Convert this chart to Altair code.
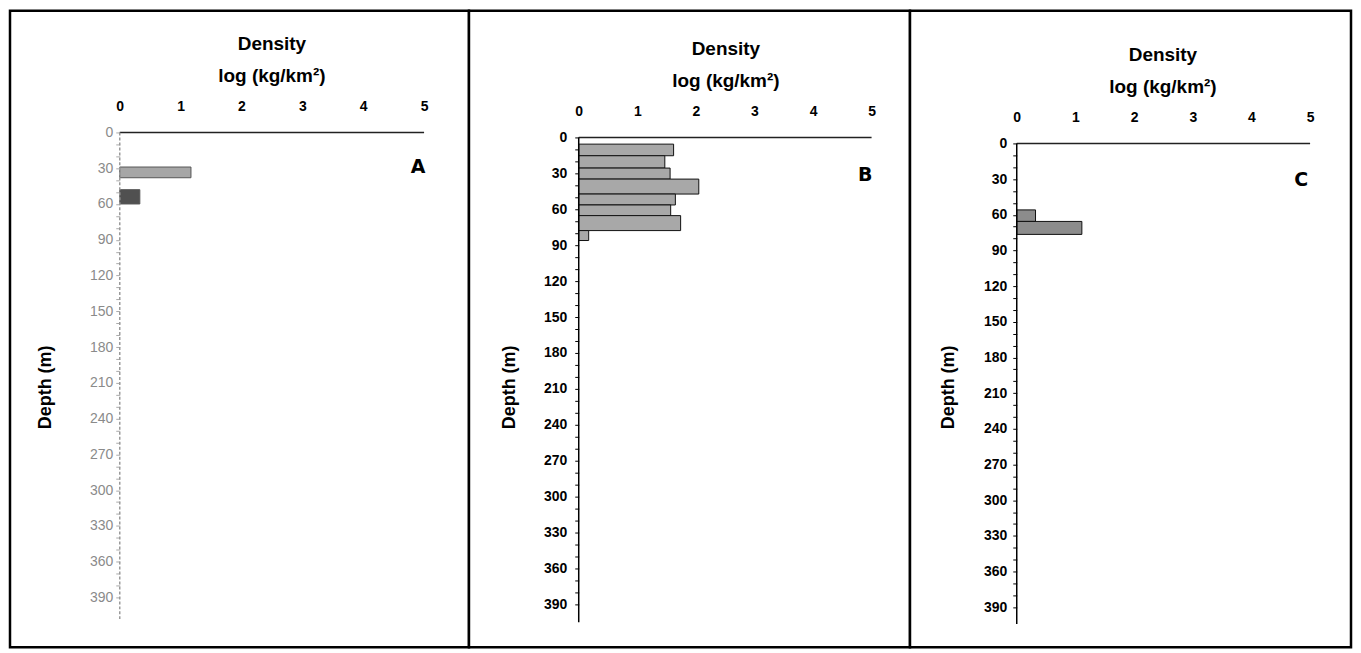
import altair as alt
import pandas as pd

FONT = "Liberation Sans"

# ---------------- data ----------------
x_ticks = [0, 1, 2, 3, 4, 5]
depth_ticks = list(range(0, 400, 10))  # labels shown every 30 m
x_title = ["Density", "log (kg/km²)"]
y_title = "Depth (m)"

A_top = [29, 48]
A_bottom = [38, 60]
A_value = [1.17, 0.33]
A_fill = ["#a6a6a6", "#505050"]

B_top = [5.6, 15.3, 25.6, 34.8, 47.3, 56.4, 65.3, 77.8]
B_bottom = [15.3, 25.6, 34.8, 47.3, 56.4, 65.3, 77.8, 86.1]
B_value = [1.62, 1.47, 1.56, 2.05, 1.65, 1.57, 1.74, 0.17]
B_fill = ["#a8a8a8"] * 8

C_top = [55.9, 65.6]
C_bottom = [65.6, 76.5]
C_value = [0.32, 1.11]
C_fill = ["#8c8c8c", "#8c8c8c"]

letters = ["A", "B", "C"]
letter_x = [4.9, 4.89, 4.85]
letter_depth = [29, 31, 31]
axis_end_depth = [408, 405, 404]

H = 638


def make_panel(i, top, bottom, value, fill, width, xdom, ydom, x0px, y0px,
               ylab_color, ylab_weight, ylab_pad, tick_color, yline_color,
               yline_dash, title_x, ytitle_x, bar_stroke):
    bars_df = pd.DataFrame({"top": top, "bottom": bottom, "value": value,
                            "base": [0] * len(value), "fill": fill})
    axis_df = pd.DataFrame({"x0": [0], "x1": [5], "y0": [0], "y1": [axis_end_depth[i]]})
    letter_df = pd.DataFrame({"letter": [letters[i]], "lx": [letter_x[i]], "ly": [letter_depth[i]]})

    xscale = alt.Scale(domain=xdom, nice=False, zero=False)
    yscale = alt.Scale(domain=ydom, nice=False, zero=False, reverse=True)

    xaxis = alt.Axis(orient="top", offset=-y0px, values=x_ticks, domain=False,
                     ticks=False, grid=False, labelFont=FONT, labelFontSize=14,
                     labelFontWeight="bold", labelColor="black", labelPadding=19,
                     labelFlush=False, labelOverlap=False,
                     title=x_title, titleFont=FONT, titleFontSize=19,
                     titleFontWeight="bold", titleColor="black", titleX=title_x,
                     titleY=-83, titleAlign="center", titleBaseline="alphabetic",
                     titleLineHeight=32)
    yaxis = alt.Axis(orient="left", offset=-x0px, values=depth_ticks,
                     labelExpr="datum.value % 30 == 0 ? datum.label : ''",
                     domain=False, grid=False, tickSize=4, tickColor=tick_color,
                     labelFont=FONT, labelFontSize=14, labelFontWeight=ylab_weight,
                     labelColor=ylab_color, labelPadding=ylab_pad,
                     labelFlush=False, labelOverlap=False,
                     title=y_title, titleFont=FONT, titleFontSize=18,
                     titleFontWeight="bold", titleColor="black", titleAngle=270,
                     titleX=ytitle_x, titleY=377, titleAlign="center",
                     titleBaseline="middle")

    def X(f):
        return alt.X(f, type="quantitative", scale=xscale, axis=xaxis)

    def Y(f):
        return alt.Y(f, type="quantitative", scale=yscale, axis=yaxis)

    bars = alt.Chart(bars_df).mark_rect(stroke=bar_stroke, strokeWidth=1).encode(
        x=X("base"), x2="value", y=Y("top"), y2="bottom",
        fill=alt.Fill("fill:N", scale=None))
    xline = alt.Chart(axis_df).mark_rule(color="#222", strokeWidth=1.5).encode(
        x=X("x0"), x2="x1", y=Y("y0"))
    yline = alt.Chart(axis_df).mark_rule(color=yline_color, strokeWidth=1.5,
                                         strokeDash=yline_dash).encode(
        x=X("x0"), y=Y("y0"), y2="y1")
    letter = alt.Chart(letter_df).mark_text(font="DejaVu Sans", fontSize=19,
                                            fontWeight="bold", color="black",
                                            align="center", baseline="middle").encode(
        x=X("lx"), y=Y("ly"), text="letter:N")
    return alt.layer(bars, xline, yline, letter).properties(
        width=width, height=H,
        view=alt.ViewBackground(stroke="black", strokeWidth=2.5, fill="white"))


pA = make_panel(0, A_top, A_bottom, A_value, A_fill, 460,
                [-110 / 61, 350 / 61], [-122 / 1.195, (H - 122) / 1.195], 110, 122,
                "#8a8a8a", "normal", 3, "#aaaaaa", "#9a9a9a", [3, 2], 262, -74, "#555")
pB = make_panel(1, B_top, B_bottom, B_value, B_fill, 442,
                [-110 / 58.7, 332 / 58.7], [-127 / 1.2, (H - 127) / 1.2], 110, 127,
                "black", "bold", 8, "black", "black", [1, 0], 257, -69, "#111")
pC = make_panel(2, C_top, C_bottom, C_value, C_fill, 442,
                [-107 / 58.8, 335 / 58.8], [-133 / 1.192, (H - 133) / 1.192], 107, 133,
                "black", "bold", 6, "black", "black", [1, 0], 253, -68, "#111")

chart = alt.hconcat(pA, pB, pC, spacing=0, bounds="flush").properties(
    padding=0, background="white").configure_view(stroke="black", strokeWidth=2.5)

chart.save("out.html", embed_options={"renderer": "svg", "actions": False})
